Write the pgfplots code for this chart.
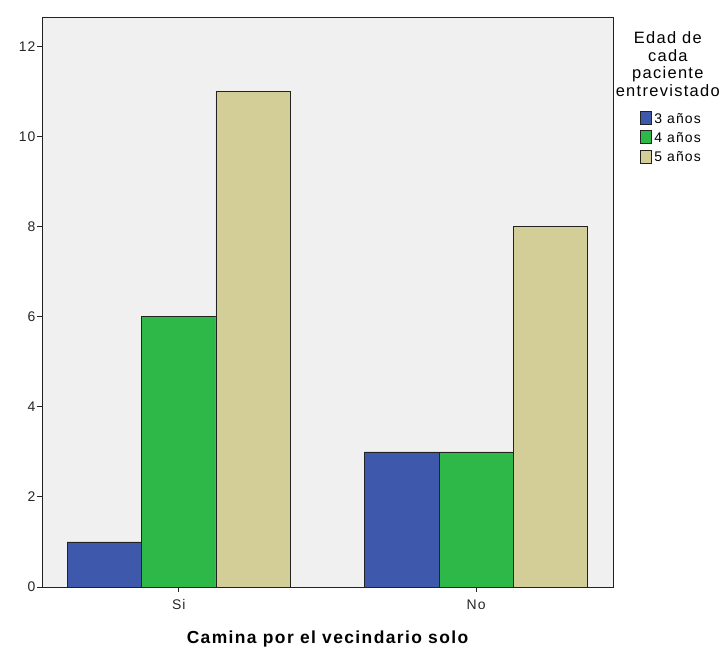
\documentclass[border=0pt]{standalone}
\usepackage{pgfplots}
\pgfplotsset{compat=1.18}
\usepackage{fontspec}
\setmainfont{Liberation Sans}
\newfontfamily\wide{Liberation Sans}[LetterSpace=8]
\definecolor{cblue}{HTML}{3E58AC}
\definecolor{cgreen}{HTML}{2EB848}
\definecolor{ctan}{HTML}{D3CE97}
\definecolor{cbg}{HTML}{F0F0F0}
\definecolor{cline}{HTML}{222222}
\begin{document}
\begin{tikzpicture}
\useasboundingbox (0,0) rectangle (722bp,648bp);
\begin{axis}[
  at={(42bp,61bp)}, anchor=south west,
  scale only axis, width=571bp, height=570bp,
  xmin=-0.46, xmax=1.46, ymin=0, ymax=12.65,
  ytick={0,2,4,6,8,10,12},
  xtick={0,1}, xticklabels={Si,No},
  tick align=outside, major tick length=5bp,
  xtick pos=bottom, ytick pos=left,
  tick style={color=cline, line width=0.8pt},
  axis line style={color=cline, line width=0.9pt},
  axis background/.style={fill=cbg},
  /pgf/number format/assume math mode=true,
  tick label style={font=\wide\fontsize{14}{16}\selectfont, color=black!85},
  xticklabel style={yshift=-4bp},
  yticklabel style={xshift=2bp},
  xlabel={\bfseries Camina por el vecindario solo},
  xlabel style={font=\wide\fontsize{17.5}{20}\selectfont, yshift=-14bp},
  ybar, bar width=0.25,
  legend cell align=left,
  legend style={at={(rel axis cs:1.047,0.835)}, anchor=north west, draw=none, fill=none,
    font=\wide\fontsize{14}{16}\selectfont, row sep=4bp, inner sep=0pt, outer sep=0pt,
    nodes={inner sep=0pt, text height=11bp, text depth=3bp},
    /tikz/every odd column/.append style={column sep=3bp}},
  legend image code/.code={\draw[#1, line width=0.6pt, draw=cline] (0bp,-5bp) rectangle (11bp,8bp);},
  clip=false,
]
\addplot[fill=cblue, draw=cline, line width=0.6pt, bar shift=-0.25] coordinates {(0,1) (1,3)};
\addplot[fill=cgreen, draw=cline, line width=0.6pt, bar shift=0] coordinates {(0,6) (1,3)};
\addplot[fill=ctan, draw=cline, line width=0.6pt, bar shift=0.25] coordinates {(0,11) (1,8)};
\legend{3 años,4 años,5 años}
\node[anchor=north, align=center, font=\wide\fontsize{16.5}{17.8}\selectfont, inner sep=0pt] at (rel axis cs:1.096,0.975) {Edad de\\cada\\paciente\\entrevistado};
\end{axis}
\end{tikzpicture}
\end{document}
